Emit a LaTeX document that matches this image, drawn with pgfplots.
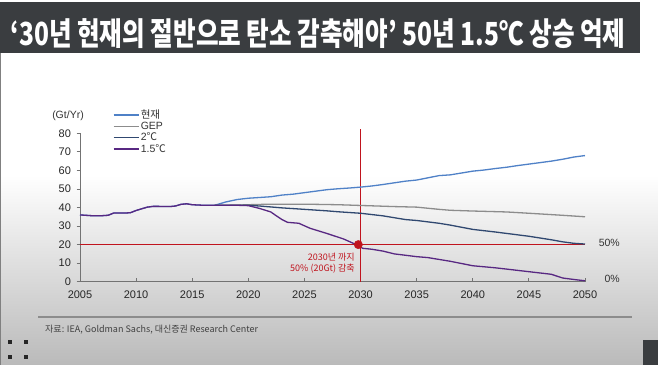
\documentclass[border=0pt]{standalone}
\usepackage{pgfplots}
\pgfplotsset{compat=1.18}
\usepackage{fontspec}
\setmainfont{Liberation Sans}
\newfontfamily\cjk{Noto Sans CJK KR}
\definecolor{banner}{RGB}{58,61,64}
\definecolor{cNow}{RGB}{79,129,199}
\definecolor{cGEP}{RGB}{140,140,140}
\definecolor{cTwo}{RGB}{48,72,112}
\definecolor{cOne}{RGB}{88,40,130}
\definecolor{cRed}{RGB}{192,20,30}
\definecolor{bgbot}{RGB}{186,186,186}
\pgfplotsset{longline/.style={legend image code/.code={\draw[##1] (0bp,0bp) -- (25bp,0bp);}}}
\begin{document}
\begin{tikzpicture}
\useasboundingbox (0bp,0bp) rectangle (658bp,365bp);
\fill[white] (0bp,0bp) rectangle (658bp,365bp);
\shade[top color=white,bottom color=bgbot] (0bp,0bp) rectangle (658bp,190bp);
\fill[banner] (0bp,312bp) rectangle (640bp,363bp);
\draw[gray,line width=1bp] (0.5bp,0bp) -- (0.5bp,312bp);
\node[text=white, inner sep=0] at (318bp,331.5bp) {\resizebox*{615bp}{30bp}{\cjk\bfseries ‘30년 현재의 절반으로 탄소 감축해야’ 50년 1.5℃ 상승 억제}};
\draw[black!45, line width=1.5bp] (38bp,48bp) -- (632bp,48bp);
\node[anchor=west, inner sep=0, text=black!75] at (45bp,35bp) {\cjk\fontsize{9bp}{10bp}\selectfont 자료: IEA, Goldman Sachs, 대신증권 Research Center};
\fill[black!85] (8bp,21bp) rectangle (12bp,25bp);
\fill[black!85] (24bp,21bp) rectangle (28bp,25bp);
\fill[black!85] (8bp,6bp) rectangle (12bp,10bp);
\fill[black!85] (24bp,6bp) rectangle (28bp,10bp);
\fill[banner] (643bp,0bp) rectangle (658bp,25bp);
\node[inner sep=0, text=black!80] at (68bp,249bp) {\fontsize{10.5bp}{12bp}\selectfont (Gt/Yr)};
\node[anchor=east, inner sep=0, text=black!80] at (620bp,122bp) {\fontsize{10.5bp}{12bp}\selectfont 50\%};
\node[anchor=east, inner sep=0, text=black!80] at (620bp,86bp) {\fontsize{10.5bp}{12bp}\selectfont 0\%};
\begin{axis}[
  at={(80bp,83.3bp)}, anchor=south west,
  scale only axis, width=505bp, height=148.4bp,
  xmin=2005, xmax=2050, ymin=0, ymax=80,
  clip=false,
  axis x line*=bottom, axis y line*=left,
  axis line style={black!55, line width=0.8bp},
  xtick={2005,2010,...,2050}, ytick={0,10,...,80},
  major tick length=3.5bp,
  tick style={black!55, line width=0.8bp},
  xtick align=inside, ytick align=outside,
  /pgf/number format/assume math mode=true,
  /pgf/number format/1000 sep={},
  tick label style={font=\fontsize{11bp}{13bp}\selectfont, text=black!85},
  xticklabel style={yshift=-6bp},
  yticklabel style={xshift=-2bp},
  legend style={at={(0.065,1.17)}, anchor=north west, draw=none, fill=none,
    font=\fontsize{10.5bp}{12bp}\selectfont, row sep=-1bp, inner sep=0bp,
    nodes={inner sep=1.5bp, text=black!80}},
  legend cell align=left,
  longline,
]
\addplot[cRed, line width=0.9bp, forget plot] coordinates {(2005,20) (2050,20)};
\addplot[cRed, line width=0.9bp, forget plot] coordinates {(2030,0) (2030,82.3)};
% 현재
\addplot[cNow, line width=1.3bp] coordinates {
(2005,36.0) (2006,35.6) (2007,35.6) (2007.5,35.8) (2008,37.0) (2009,37.0) (2009.5,37.2) (2010,38.4) (2011,40.2) (2011.5,40.6) (2012,40.6) (2013,40.5) (2013.5,40.8) (2014,41.7) (2014.5,42.0) (2015,41.5) (2016,41.2) (2017,41.2)
(2018,43.0) (2019,44.3) (2020,45.0) (2021,45.4) (2022,45.8) (2023,46.7) (2024,47.2) (2025,48.0) (2026,48.8) (2027,49.6) (2028,50.1) (2029,50.5) (2030,51.0) (2031,51.6) (2032,52.4) (2033,53.3) (2034,54.2) (2035,54.8) (2036,56.0) (2037,57.2) (2038,57.6) (2039,58.6) (2040,59.6) (2041,60.2) (2042,61.0) (2043,61.7) (2044,62.6) (2045,63.4) (2046,64.2) (2047,65.0) (2048,66.0) (2049,67.2) (2050,68.0)};
\addlegendentry{\cjk 현재}
% GEP
\addplot[cGEP, line width=1.3bp] coordinates {
(2017,41.2) (2019,41.3) (2020,41.5) (2022,41.8) (2025,41.8) (2028,41.5) (2030,41.1) (2033,40.5) (2035,40.2) (2037,39.0) (2038,38.5) (2040,38.1) (2043,37.6) (2045,36.9) (2048,35.8) (2050,35.0)};
\addlegendentry{GEP}
% 2C
\addplot[cTwo, line width=1.3bp] coordinates {
(2017,41.2) (2019,41.2) (2020,41.2) (2021,40.8) (2022,40.3) (2023,39.8) (2024,39.4) (2025,39.0) (2027,38.2) (2028,37.7) (2030,36.9) (2032,35.5) (2034,33.5) (2035,33.0) (2037,31.5) (2038,30.5) (2040,28.2) (2042,26.8) (2045,24.5) (2047,22.6) (2048,21.5) (2049,20.7) (2050,20.3)};
\addlegendentry{2{\cjk ℃}}
% 1.5C
\addplot[cOne, line width=1.3bp] coordinates {
(2005,36.0) (2006,35.6) (2007,35.6) (2007.5,35.8) (2008,37.0) (2009,37.0) (2009.5,37.2) (2010,38.4) (2011,40.2) (2011.5,40.6) (2012,40.6) (2013,40.5) (2013.5,40.8) (2014,41.7) (2014.5,42.0) (2015,41.5) (2016,41.2) (2017,41.2)
(2019,41.2) (2020,41.0) (2021,39.5) (2022,37.6) (2022.5,35.5) (2023,33.5) (2023.5,32.0) (2024.5,31.5) (2025.5,28.8) (2027,26.0) (2028.5,23.0) (2029.5,20.3) (2030.2,18.0) (2031,17.5) (2032,16.5) (2033,15.0) (2035,13.5) (2036,13.0) (2038,11.0) (2040,8.6) (2042,7.5) (2045,5.4) (2047,4.0) (2048,2.0) (2049,1.2) (2050,0.5)};
\addlegendentry{1.5{\cjk ℃}}
\addplot[only marks, mark=*, cRed, mark size=4.2bp, forget plot] coordinates {(2029.8,20)};
\node[anchor=north east, align=right, text=cRed, inner sep=0, font=\cjk\fontsize{9bp}{10.5bp}\selectfont] at (axis cs:2029.5,15.5) {2030년 까지\\50\% (20Gt) 감축};
\end{axis}
\end{tikzpicture}
\end{document}
